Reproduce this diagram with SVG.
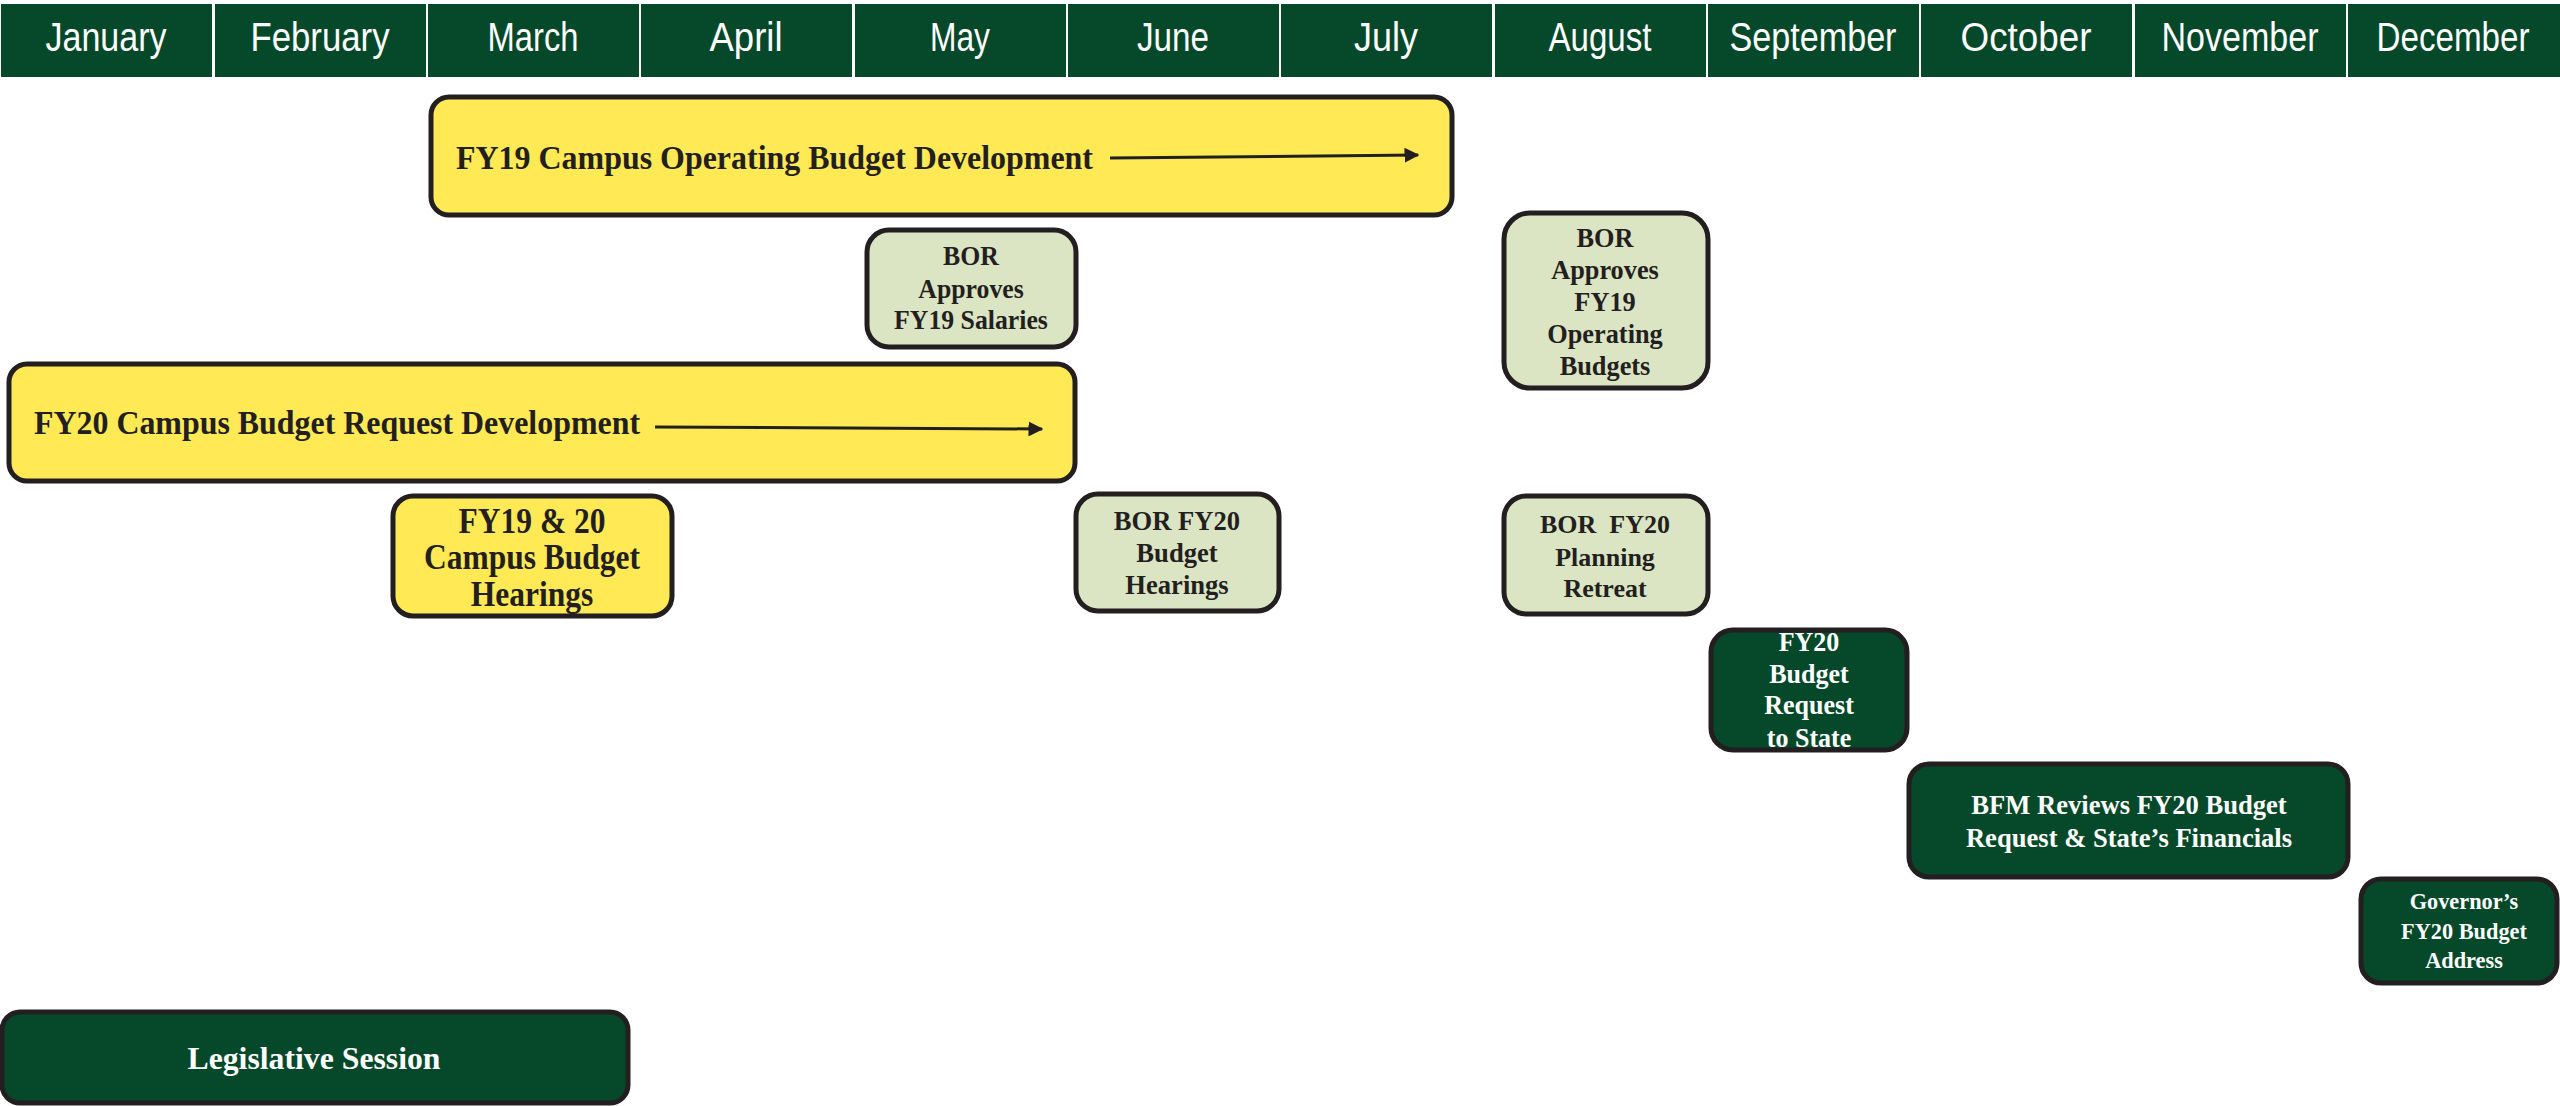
<svg xmlns="http://www.w3.org/2000/svg" width="2560" height="1106" viewBox="0 0 2560 1106">
<defs>
<style>
.hdr{fill:#06482a}
.mon{font-family:"Liberation Sans",Arial,sans-serif;font-size:40px;fill:#ffffff;text-anchor:middle}
.box{stroke:#231f20;stroke-width:5}
.yel{fill:#ffe955}
.lg{fill:#dbe5c4}
.dg{fill:#06482a}
.t{font-family:"Liberation Serif","Times New Roman",serif;font-weight:bold;fill:#231f20;text-anchor:middle}
.w{fill:#ffffff}
.arr{stroke:#231f20;stroke-width:3;fill:none}
</style>
<marker id="ah" viewBox="0 0 10 10" refX="9" refY="5" markerWidth="5" markerHeight="5" orient="auto" markerUnits="strokeWidth">
<path d="M0,0 L10,5 L0,10 z" fill="#231f20"/>
</marker>
</defs>
<rect width="2560" height="1106" fill="#ffffff"/>
<g id="header">
<rect class="hdr" x="1" y="4" width="211" height="73"/>
<rect class="hdr" x="215" y="4" width="211" height="73"/>
<rect class="hdr" x="428" y="4" width="211" height="73"/>
<rect class="hdr" x="641" y="4" width="211" height="73"/>
<rect class="hdr" x="855" y="4" width="211" height="73"/>
<rect class="hdr" x="1068" y="4" width="211" height="73"/>
<rect class="hdr" x="1281" y="4" width="211" height="73"/>
<rect class="hdr" x="1495" y="4" width="211" height="73"/>
<rect class="hdr" x="1708" y="4" width="211" height="73"/>
<rect class="hdr" x="1921" y="4" width="211" height="73"/>
<rect class="hdr" x="2135" y="4" width="211" height="73"/>
<rect class="hdr" x="2348" y="4" width="212" height="73"/>
<text class="mon" x="106" y="51" textLength="121" lengthAdjust="spacingAndGlyphs">January</text>
<text class="mon" x="320" y="51" textLength="139" lengthAdjust="spacingAndGlyphs">February</text>
<text class="mon" x="533" y="51" textLength="91" lengthAdjust="spacingAndGlyphs">March</text>
<text class="mon" x="746" y="51" textLength="73" lengthAdjust="spacingAndGlyphs">April</text>
<text class="mon" x="960" y="51" textLength="60" lengthAdjust="spacingAndGlyphs">May</text>
<text class="mon" x="1173" y="51" textLength="72" lengthAdjust="spacingAndGlyphs">June</text>
<text class="mon" x="1386" y="51" textLength="64" lengthAdjust="spacingAndGlyphs">July</text>
<text class="mon" x="1600" y="51" textLength="103" lengthAdjust="spacingAndGlyphs">August</text>
<text class="mon" x="1813" y="51" textLength="167" lengthAdjust="spacingAndGlyphs">September</text>
<text class="mon" x="2026" y="51" textLength="131" lengthAdjust="spacingAndGlyphs">October</text>
<text class="mon" x="2240" y="51" textLength="157" lengthAdjust="spacingAndGlyphs">November</text>
<text class="mon" x="2453" y="51" textLength="153" lengthAdjust="spacingAndGlyphs">December</text>
</g>
<g id="fy19-dev">
<rect class="box yel" x="431" y="97" width="1021" height="118" rx="18"/>
<text class="t" x="456" y="169" font-size="34" text-anchor="start" style="text-anchor:start" textLength="637" lengthAdjust="spacingAndGlyphs">FY19 Campus Operating Budget Development</text>
</g>
<g id="fy20-dev">
<rect class="box yel" x="9" y="364" width="1066" height="117" rx="18"/>
<text class="t" x="34" y="434" font-size="34" style="text-anchor:start" textLength="606" lengthAdjust="spacingAndGlyphs">FY20 Campus Budget Request Development</text>
</g>
<g id="bor-salaries">
<rect class="box lg" x="867" y="230" width="209" height="117" rx="22"/>
<g transform="translate(971,0) scale(0.92,1)">
<text class="t" x="0" y="265" font-size="28">BOR</text>
<text class="t" x="0" y="298" font-size="28">Approves</text>
<text class="t" x="0" y="329" font-size="28">FY19 Salaries</text>
</g>
</g>
<g id="bor-operating">
<rect class="box lg" x="1504" y="213" width="204" height="175" rx="26"/>
<g transform="translate(1605,0) scale(0.94,1)">
<text class="t" x="0" y="247" font-size="28">BOR</text>
<text class="t" x="0" y="279" font-size="28">Approves</text>
<text class="t" x="0" y="311" font-size="28">FY19</text>
<text class="t" x="0" y="343" font-size="28">Operating</text>
<text class="t" x="0" y="375" font-size="28">Budgets</text>
</g>
</g>
<g id="campus-hearings">
<rect class="box yel" x="393" y="496" width="279" height="120" rx="20"/>
<g transform="translate(532,0) scale(0.9,1)">
<text class="t" x="0" y="533" font-size="35">FY19 &amp; 20</text>
<text class="t" x="0" y="569" font-size="35">Campus Budget</text>
<text class="t" x="0" y="606" font-size="35">Hearings</text>
</g>
</g>
<g id="bor-hearings">
<rect class="box lg" x="1076" y="494" width="203" height="117" rx="22"/>
<g transform="translate(1177,0) scale(0.95,1)">
<text class="t" x="0" y="530" font-size="28">BOR FY20</text>
<text class="t" x="0" y="562" font-size="28">Budget</text>
<text class="t" x="0" y="594" font-size="28">Hearings</text>
</g>
</g>
<g id="bor-retreat">
<rect class="box lg" x="1504" y="496" width="204" height="118" rx="22"/>
<text class="t" x="1605" y="533" font-size="26">BOR&#160; FY20</text>
<text class="t" x="1605" y="566" font-size="26">Planning</text>
<text class="t" x="1605" y="597" font-size="26">Retreat</text>
</g>
<g id="request-state">
<rect class="box dg" x="1711" y="630" width="196" height="120" rx="22"/>
<g transform="translate(1809,0) scale(0.93,1)">
<text class="t w" x="0" y="651" font-size="28">FY20</text>
<text class="t w" x="0" y="683" font-size="28">Budget</text>
<text class="t w" x="0" y="714" font-size="28">Request</text>
<text class="t w" x="0" y="747" font-size="28">to State</text>
</g>
</g>
<g id="bfm-reviews">
<rect class="box dg" x="1909" y="764" width="439" height="113" rx="20"/>
<g transform="translate(2129,0) scale(0.95,1)">
<text class="t w" x="0" y="814" font-size="28">BFM Reviews FY20 Budget</text>
<text class="t w" x="0" y="847" font-size="28">Request &amp; State’s Financials</text>
</g>
</g>
<g id="governor">
<rect class="box dg" x="2361" y="879" width="196" height="104" rx="20"/>
<g transform="translate(2464,0) scale(0.93,1)">
<text class="t w" x="0" y="909" font-size="24">Governor’s</text>
<text class="t w" x="0" y="939" font-size="24">FY20 Budget</text>
<text class="t w" x="0" y="968" font-size="24">Address</text>
</g>
</g>
<g id="legislative">
<rect class="box dg" x="2" y="1012" width="626" height="91" rx="18"/>
<text class="t w" x="314" y="1069" font-size="32" textLength="253" lengthAdjust="spacingAndGlyphs">Legislative Session</text>
</g>
<g id="connectors">
<line class="arr" x1="1110" y1="158" x2="1418" y2="155" marker-end="url(#ah)"/>
<line class="arr" x1="655" y1="427" x2="1042" y2="429" marker-end="url(#ah)"/>
</g>
</svg>
